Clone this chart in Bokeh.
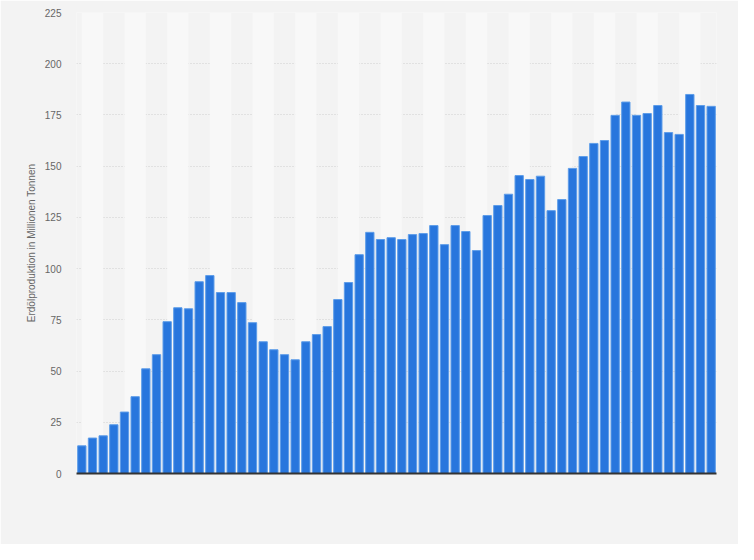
from bokeh.plotting import figure
from bokeh.models import ColumnDataSource, Range1d, FixedTicker
from bokeh.embed import file_html
from bokeh.resources import INLINE

years = list(range(1965, 2025))
production = [
    13.5, 17.3, 18.4, 23.8, 30.0, 37.5, 51.1, 58.0, 74.1, 80.9,
    80.4, 93.6, 96.6, 88.3, 88.3, 83.4, 73.6, 64.3, 60.4, 58.0,
    55.5, 64.3, 67.8, 71.7, 84.9, 93.2, 106.8, 117.7, 114.2, 115.1,
    114.2, 116.6, 117.1, 121.0, 111.7, 121.0, 118.1, 108.8, 125.9, 130.8,
    136.3, 145.4, 143.5, 145.1, 128.3, 133.7, 148.9, 154.7, 161.1, 162.5,
    174.8, 181.3, 174.8, 175.7, 179.6, 166.4, 165.5, 185.0, 179.6, 179.2,
]
y_ticks = [0, 25, 50, 75, 100, 125, 150, 175, 200, 225]
axis_title = "Erdölproduktion in Millionen Tonnen"

BG = "#f3f3f3"
STRIPE = "#f8f8f8"
BAR = "#2876dd"
FONT = "Liberation Sans"

n = len(years)
xpos = [y - years[0] + 0.5 for y in years]

p = figure(
    width=738, height=544,
    output_backend="svg", toolbar_location=None,
    x_range=Range1d(0, n), y_range=Range1d(0, 225),
    min_border_left=76, min_border_right=22,
    min_border_top=12, min_border_bottom=71,
)
p.background_fill_color = BG
p.border_fill_color = BG
p.outline_line_color = None

# alternating vertical stripes (every two years, starting at first bar centre)
s_left = [xpos[i] for i in range(0, n, 4)]
s_right = [min(xpos[i] + 2, n) for i in range(0, n, 4)]
p.quad(left=s_left, right=s_right, bottom=0, top=225,
       fill_color=STRIPE, line_color=None)

src = ColumnDataSource(dict(x=xpos, top=production))
p.vbar(x="x", top="top", width=0.78, bottom=0, source=src,
       fill_color=BAR, line_color="#5e9de9", line_width=1)

# axes
p.xaxis.ticker = FixedTicker(ticks=[])
p.xaxis.major_tick_line_color = None
p.xaxis.minor_tick_line_color = None
p.xaxis.major_tick_out = 0
p.xaxis.major_tick_in = 0
p.xaxis.axis_line_color = "#333333"
p.xaxis.axis_line_width = 2

p.yaxis.ticker = FixedTicker(ticks=y_ticks)
p.yaxis.axis_line_color = None
p.yaxis.major_tick_line_color = None
p.yaxis.minor_tick_line_color = None
p.yaxis.major_tick_out = 0
p.yaxis.major_tick_in = 0
p.yaxis.major_label_standoff = 15
p.yaxis.major_label_text_font = FONT
p.yaxis.major_label_text_font_size = "10px"
p.yaxis.major_label_text_color = "#666666"
p.yaxis.axis_label = axis_title
p.yaxis.axis_label_text_font = FONT
p.yaxis.axis_label_text_font_size = "10px"
p.yaxis.axis_label_text_font_style = "normal"
p.yaxis.axis_label_text_color = "#666666"
p.yaxis.axis_label_standoff = 5

p.xgrid.grid_line_color = None
p.ygrid.grid_line_color = "#cfcfcf"
p.ygrid.grid_line_dash = "1 2"
p.ygrid.grid_line_width = 1

open("out.html", "w").write(file_html(p, INLINE))
